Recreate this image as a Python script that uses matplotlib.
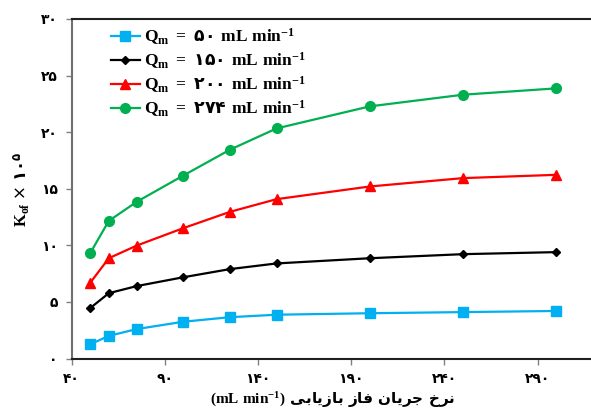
import matplotlib.pyplot as plt

# فونت‌های ریاضی: لاتین با سریف پررنگ، ضربدر با دژاوو نازک
plt.rcParams['mathtext.fontset'] = 'custom'
plt.rcParams['mathtext.rm'] = 'Liberation Serif:bold'
plt.rcParams['mathtext.bf'] = 'Liberation Serif:bold'
plt.rcParams['mathtext.it'] = 'Liberation Serif:bold'
plt.rcParams['mathtext.sf'] = 'DejaVu Sans'

# نرخ جریان فاز بازیابی (mL/min)
flow = [50, 60, 75, 100, 125, 150, 200, 250, 300]

# Kof x 10^5 برای هر Qm
k_q50 = [1.25, 2.0, 2.6, 3.25, 3.65, 3.87, 4.0, 4.1, 4.2]
k_q150 = [4.45, 5.77, 6.4, 7.18, 7.9, 8.4, 8.86, 9.22, 9.4]
k_q200 = [6.68, 8.86, 9.98, 11.52, 12.96, 14.08, 15.2, 15.94, 16.23]
k_q274 = [9.3, 12.16, 13.85, 16.17, 18.45, 20.33, 22.28, 23.31, 23.87]

q_values = [50, 150, 200, 274]
colors = ['#00B0F0', '#000000', '#FF0000', '#00B050']
markers = ['s', 'D', '^', 'o']
msizes = [6.5, 4.5, 7, 7]

y_ticks = [0, 5, 10, 15, 20, 25, 30]
x_ticks = [40, 90, 140, 190, 240, 290]

fa_digits = str.maketrans('0123456789', '\u06F0\u06F1\u06F2\u06F3\u06F4\u06F5\u06F6\u06F7\u06F8\u06F9')
def fa(n):
    return str(n).translate(fa_digits)

# عنوان محور x به ترتیب نمایشی (شکل‌های اتصالی حروف)
narkh = '\uFEA5\uFEAE\uFEE7'
jaryan = '\uFEE5\uFE8E\uFEF3\uFEAE\uFE9F'
faz = '\uFEAF\uFE8E\uFED3'
bazyabi = '\uFEF0\uFE91\uFE8E\uFEF3\uFEAF\uFE8E\uFE91'
xlabel_fa = ' '.join([bazyabi, faz, jaryan, narkh])

fig = plt.figure(figsize=(5.91, 4.12), dpi=100)
ax = fig.add_axes([71.5/591, 1 - 358.5/412, 522/591, 339.5/412])

series = [k_q50, k_q150, k_q200, k_q274]
for k, q, c, m, ms in zip(series, q_values, colors, markers, msizes):
    label = r'$\mathbf{Q_m\ =\ }$' + fa(q) + r' $\mathbf{mL\ min^{-1}}$'
    ax.plot(flow, k, color=c, marker=m, markersize=ms, linewidth=1.6, label=label)

ax.set_xlim(40, 320)
ax.set_ylim(0, 30)
ax.set_xticks(x_ticks)
ax.set_yticks(y_ticks)
ax.set_xticklabels([fa(t) for t in x_ticks], fontfamily='DejaVu Sans', fontweight='bold', fontsize=10)
ax.set_yticklabels([fa(t) for t in y_ticks], fontfamily='DejaVu Sans', fontweight='bold', fontsize=10)
ax.tick_params(axis='both', direction='out', length=4, width=1, color='#808080', pad=6)

ax.spines['right'].set_visible(False)
ax.spines['left'].set_color('#707070')
ax.spines['left'].set_linewidth(1.5)
ax.spines['bottom'].set_color('#202020')
ax.spines['bottom'].set_linewidth(1.5)
ax.spines['top'].set_color('#202020')
ax.spines['top'].set_linewidth(1.5)

ax.set_xlabel(r'$\mathbf{(mL\ min^{-1})}$ ' + xlabel_fa, fontfamily='DejaVu Sans',
              fontweight='bold', fontsize=11, labelpad=3)
ax.set_ylabel(r'$\mathbf{K_{of}}\ \mathsf{\times}\ $' + fa(10) + r'$^{\mathdefault{' + fa(5) + '}}$',
              fontfamily='DejaVu Sans', fontweight='bold', fontsize=12, labelpad=6)

ax.legend(loc='upper left', bbox_to_anchor=(0.045, 1.025), frameon=False,
          prop=dict(family='DejaVu Sans', weight='bold', size=12.5),
          handlelength=1.7, handletextpad=0.2, labelspacing=0.2)

fig.savefig('out.png', dpi=100)
